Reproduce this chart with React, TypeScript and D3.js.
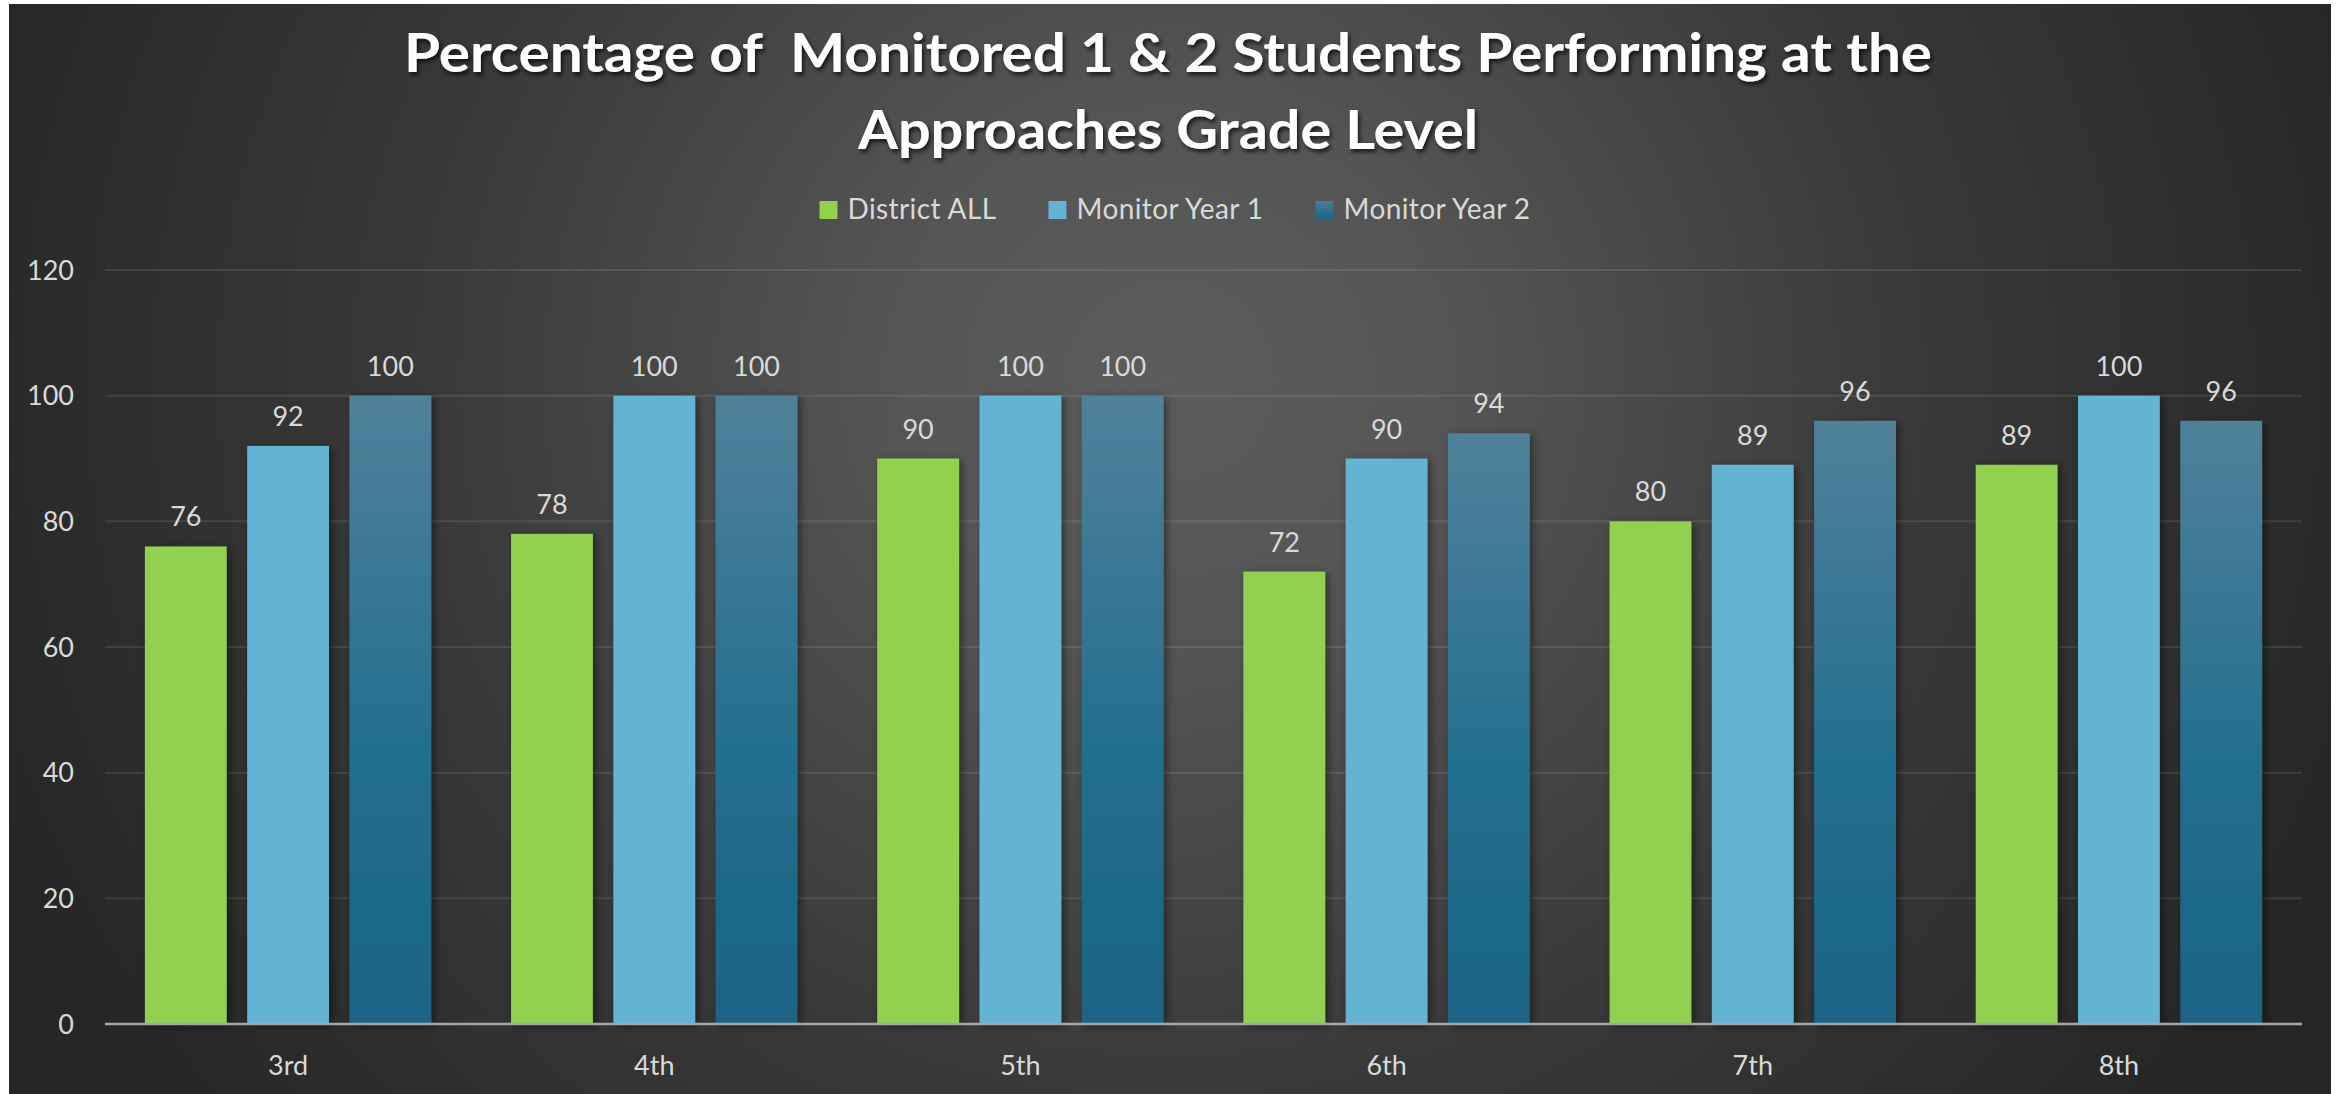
import React, { useRef, useEffect } from "react";
import { scaleBand, scaleLinear, select } from "d3";

const grades = ["3rd", "4th", "5th", "6th", "7th", "8th"];
const seriesNames = ["District ALL", "Monitor Year 1", "Monitor Year 2"];
const districtAll = [76, 78, 90, 72, 80, 89];
const monitorYear1 = [92, 100, 100, 90, 89, 100];
const monitorYear2 = [100, 100, 100, 94, 96, 96];
const yTicks = [0, 20, 40, 60, 80, 100, 120];
const titleLines = [
  "Percentage of  Monitored 1 & 2 Students Performing at the",
  "Approaches Grade Level",
];

const W = 2343;
const H = 1094;
const font = "Lato, 'Open Sans', sans-serif";
const textColor = "#d9d9d9";
const fills = ["#92d050", "#63b3d4", "url(#darkBar)"];

export default function App() {
  const legendRef = useRef<SVGGElement>(null);

  const margin = { top: 270, right: 41, bottom: 70, left: 105 };
  const values = [districtAll, monitorYear1, monitorYear2];

  const x0 = scaleBand().domain(grades).range([margin.left, W - margin.right]);
  const x1 = scaleBand()
    .domain(seriesNames)
    .range([0, x0.bandwidth()])
    .paddingInner(0.2)
    .paddingOuter(0.39);
  const y = scaleLinear().domain([0, 120]).range([H - margin.bottom, margin.top]);

  useEffect(() => {
    if (!legendRef.current) return;
    const g = select(legendRef.current);
    g.selectAll("*").remove();
    const sq = 18;
    const gapText = 10;
    const gapItem = 52;
    const items = g
      .selectAll("g")
      .data(seriesNames)
      .enter()
      .append("g");
    items
      .append("rect")
      .attr("width", sq)
      .attr("height", sq)
      .attr("y", -sq)
      .attr("fill", (d, i) => (i === 2 ? "url(#darkLegend)" : fills[i]));
    items
      .append("text")
      .attr("x", sq + gapText)
      .attr("font-family", font)
      .attr("font-size", 28)
      .attr("letter-spacing", 0.4)
      .attr("fill", textColor)
      .text((d) => d);
    let pos = 0;
    const widths: number[] = [];
    items.each(function () {
      const t = select(this).select("text").node() as SVGTextElement;
      widths.push(sq + gapText + t.getComputedTextLength());
    });
    const total = widths.reduce((a, b) => a + b, 0) + gapItem * (widths.length - 1);
    const start = 1175 - total / 2;
    items.attr("transform", (d, i) => {
      const tx = start + pos;
      pos += widths[i] + gapItem;
      return `translate(${tx},219)`;
    });
  }, []);

  return (
    <svg
      width={W}
      height={H}
      style={{ position: "absolute", left: 0, top: 0, background: "#fff" }}
    >
      <defs>
        <radialGradient
          id="bg"
          gradientUnits="userSpaceOnUse"
          cx={1170}
          cy={380}
          r={1250}
          gradientTransform="translate(1170,380) scale(1,0.95) translate(-1170,-380)"
        >
          <stop offset="0" stopColor="#5c5c5c" />
          <stop offset="0.22" stopColor="#555555" />
          <stop offset="0.6" stopColor="#393939" />
          <stop offset="1" stopColor="#262626" />
        </radialGradient>
        <linearGradient id="darkBar" x1="0" y1="0" x2="0" y2="1">
          <stop offset="0" stopColor="#50819b" />
          <stop offset="0.55" stopColor="#246f8f" />
          <stop offset="1" stopColor="#1a6384" />
        </linearGradient>
        <linearGradient id="darkLegend" x1="0" y1="0" x2="0" y2="1">
          <stop offset="0" stopColor="#4a7f9a" />
          <stop offset="1" stopColor="#1a6384" />
        </linearGradient>
        <filter id="barShadow" x="-20%" y="-5%" width="140%" height="110%">
          <feDropShadow dx="3" dy="2" stdDeviation="4" floodColor="#000" floodOpacity="0.45" />
        </filter>
        <filter id="titleShadow" x="-5%" y="-20%" width="110%" height="150%">
          <feDropShadow dx="2" dy="3" stdDeviation="2" floodColor="#000" floodOpacity="0.7" />
        </filter>
      </defs>

      <rect x={9} y={4} width={2322} height={H - 4} fill="url(#bg)" />

      <g filter="url(#titleShadow)">
        {titleLines.map((t, i) => (
          <text
            key={t}
            x={1168}
            y={i === 0 ? 72 : 149}
            textAnchor="middle"
            fontFamily={font}
            fontWeight="bold"
            fontSize={54}
            fill="#ffffff"
            textLength={i === 0 ? 1528 : 620}
            lengthAdjust="spacingAndGlyphs"
            style={{ whiteSpace: "pre" }}
          >
            {t}
          </text>
        ))}
      </g>

      <g ref={legendRef} />

      {yTicks.map((t) => (
        <g key={t}>
          {t > 0 && (
            <line
              x1={margin.left}
              x2={W - margin.right}
              y1={y(t)}
              y2={y(t)}
              stroke="#ffffff"
              strokeOpacity={0.1}
              strokeWidth={2}
            />
          )}
          <text
            x={74}
            y={y(t)}
            dy="0.36em"
            textAnchor="end"
            fontFamily={font}
            fontSize={27}
            fill={textColor}
          >
            {t}
          </text>
        </g>
      ))}

      {grades.map((grade, gi) => (
        <g key={grade} transform={`translate(${x0(grade)},0)`}>
          {seriesNames.map((s, si) => {
            const v = values[si][gi];
            return (
              <g key={s}>
                <rect
                  x={x1(s)}
                  y={y(v)}
                  width={x1.bandwidth()}
                  height={y(0) - y(v)}
                  fill={fills[si]}
                  filter="url(#barShadow)"
                />
                <text
                  x={(x1(s) || 0) + x1.bandwidth() / 2}
                  y={y(v) - 20}
                  textAnchor="middle"
                  fontFamily={font}
                  fontSize={27}
                  fill={textColor}
                >
                  {v}
                </text>
              </g>
            );
          })}
          <text
            x={x0.bandwidth() / 2}
            y={1075}
            textAnchor="middle"
            fontFamily={font}
            fontSize={27}
            fill={textColor}
          >
            {grade}
          </text>
        </g>
      ))}

      <line
        x1={margin.left}
        x2={W - margin.right}
        y1={y(0)}
        y2={y(0)}
        stroke="#a6a6a6"
        strokeWidth={2.5}
      />
    </svg>
  );
}
